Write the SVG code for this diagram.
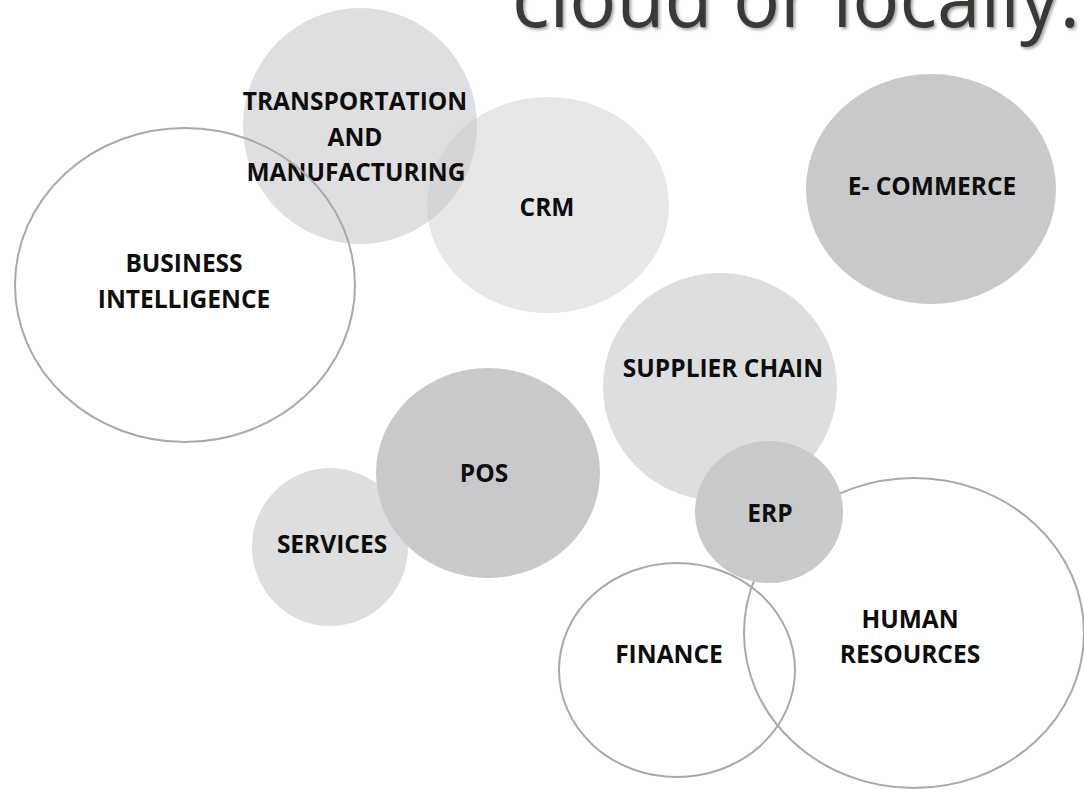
<svg xmlns="http://www.w3.org/2000/svg" width="1084" height="790" viewBox="0 0 1084 790">
<defs>
<style>
.lbl{font-family:"Open Sans","Liberation Sans",sans-serif;font-weight:bold;font-size:24.5px;fill:#0d0d0d;text-anchor:middle}
.ring{fill:none;stroke:#a9a9ab;stroke-width:2}
.dark{fill:#c8c9cb}
.light{fill:#dddee0}
.head{font-family:"Open Sans","Liberation Sans",sans-serif;font-size:82px;fill:#3a3836}
</style>
<filter id="sh" x="-5%" y="-50%" width="110%" height="200%">
<feDropShadow dx="2" dy="2" stdDeviation="1.5" flood-color="#000" flood-opacity="0.35"/>
</filter>
</defs>
<rect width="1084" height="790" fill="#ffffff"/>
<text class="head" x="512" y="27" textLength="568" lengthAdjust="spacingAndGlyphs" filter="url(#sh)">cloud or locally.</text>
<g id="crm">
<ellipse cx="548" cy="205" rx="121" ry="108" fill="#e7e7e8"/>
<text class="lbl" x="547" y="216">CRM</text>
</g>
<g id="transportation">
<ellipse cx="360" cy="126" rx="117" ry="118" fill="#c9cacd" fill-opacity="0.6"/>
<text class="lbl" x="355" y="110">TRANSPORTATION</text>
<text class="lbl" x="355" y="146">AND</text>
<text class="lbl" x="356" y="181">MANUFACTURING</text>
</g>
<g id="business-intelligence">
<ellipse class="ring" cx="185" cy="285" rx="170" ry="157"/>
<text class="lbl" x="184" y="272">BUSINESS</text>
<text class="lbl" x="184" y="308">INTELLIGENCE</text>
</g>
<g id="e-commerce">
<ellipse class="dark" cx="931" cy="189" rx="125" ry="115"/>
<text class="lbl" x="932" y="195">E- COMMERCE</text>
</g>
<g id="supplier-chain">
<ellipse class="light" cx="720" cy="387" rx="117" ry="114"/>
<text class="lbl" x="723" y="377">SUPPLIER CHAIN</text>
</g>
<g id="services">
<ellipse class="light" cx="330" cy="547" rx="78" ry="79"/>
<text class="lbl" x="332" y="553">SERVICES</text>
</g>
<g id="pos">
<ellipse class="dark" cx="488" cy="473" rx="112" ry="105"/>
<text class="lbl" x="484" y="482">POS</text>
</g>
<g id="finance">
<ellipse class="ring" cx="677" cy="670" rx="118" ry="107"/>
<text class="lbl" x="669" y="663">FINANCE</text>
</g>
<g id="human-resources">
<ellipse class="ring" cx="914" cy="633" rx="170" ry="155"/>
<text class="lbl" x="910" y="628">HUMAN</text>
<text class="lbl" x="910" y="663">RESOURCES</text>
</g>
<g id="erp">
<ellipse class="dark" cx="769" cy="512" rx="74" ry="71"/>
<text class="lbl" x="770" y="522">ERP</text>
</g>
<g id="connectors"/>
</svg>
